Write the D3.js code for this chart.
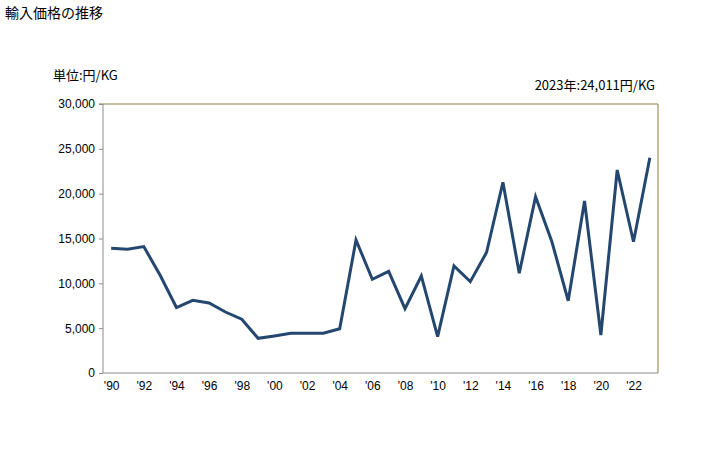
<!DOCTYPE html>
<html><head><meta charset="utf-8">
<script src="https://cdn.jsdelivr.net/npm/d3@7"></script>
<style>body{margin:0;background:#fff}svg{display:block}text{font-family:"Liberation Sans",Arial,"Noto Sans CJK JP",sans-serif}</style>
</head><body>
<svg id="c" width="728" height="450"></svg>
<script>
const years = d3.range(1990, 2024);
const values = [13900,13800,14100,10900,7300,8100,7800,6800,6000,3870,4130,4430,4430,4430,4940,14830,10450,11340,7170,10820,4050,11930,10190,13460,21270,11120,19660,14640,8060,19180,4240,22640,14640,24011];
const yTicks = [0,5000,10000,15000,20000,25000,30000];
const xTickYears = years.filter(y => y % 2 === 0);
const title = "輸入価格の推移";
const unit = "単位:円/KG";
const note = "2023年:24,011円/KG";

const svg = d3.select("#c");
const L = 103, R = 658, T = 104, B = 373;
const x = d3.scalePoint().domain(years).range([L, R]).padding(0.5);
const y = d3.scaleLinear().domain([0, 30000]).range([B, T]);

svg.append("text").attr("x", 5).attr("y", 18).attr("font-size", 14).attr("fill", "#000")
  .style("font-family", '"Noto Sans CJK JP",sans-serif').text(title);
svg.append("text").attr("x", 53).attr("y", 80).attr("font-size", 13).attr("fill", "#000")
  .style("font-family", '"Noto Sans CJK JP",sans-serif').text(unit);
svg.append("text").attr("x", 655).attr("y", 90).attr("text-anchor", "end").attr("font-size", 13).attr("fill", "#000")
  .style("font-family", '"Noto Sans CJK JP",sans-serif').text(note);

// frame
svg.append("line").attr("x1", L).attr("x2", L).attr("y1", T).attr("y2", B).attr("stroke", "#8c8c8c");
svg.append("line").attr("x1", L).attr("x2", R).attr("y1", B).attr("y2", B).attr("stroke", "#8c8c8c");
svg.append("line").attr("x1", L - 4).attr("x2", R).attr("y1", T).attr("y2", T).attr("stroke", "#8e8040");
svg.append("line").attr("x1", R).attr("x2", R).attr("y1", T).attr("y2", B).attr("stroke", "#8e8040");

const yAxis = d3.axisLeft(y).tickValues(yTicks).tickSize(4).tickFormat(d3.format(","));
const gy = svg.append("g").attr("transform", `translate(${L},0)`).call(yAxis);
gy.select(".domain").remove();
gy.selectAll(".tick line").attr("stroke", "#8c8c8c");
gy.selectAll(".tick text").attr("font-size", 12).attr("fill", "#000").attr("x", -8)
  .style("font-family", '"Liberation Sans",Arial,sans-serif');

const xAxis = d3.axisBottom(x).tickValues(xTickYears).tickSize(0).tickFormat(d => "'" + String(d).slice(2));
const gx = svg.append("g").attr("transform", `translate(0,${B})`).call(xAxis);
gx.select(".domain").remove();
gx.selectAll(".tick text").attr("font-size", 12).attr("fill", "#000").attr("dy", "1.2em")
  .style("font-family", '"Liberation Sans",Arial,sans-serif');

const line = d3.line().x((d, i) => x(years[i])).y(d => y(d));
svg.append("path").datum(values).attr("d", line).attr("fill", "none")
  .attr("stroke", "#24476f").attr("stroke-width", 3).attr("stroke-linejoin", "miter").attr("stroke-linecap", "butt");
</script>
</body></html>
